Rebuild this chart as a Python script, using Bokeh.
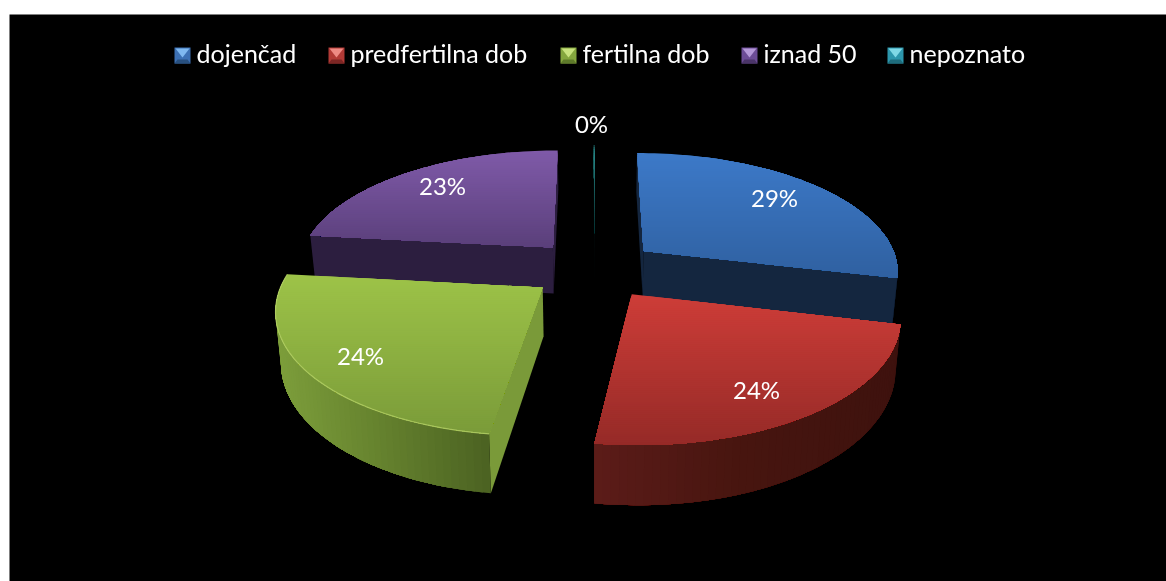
import math
from bokeh.plotting import figure
from bokeh.embed import file_html
from bokeh.resources import INLINE
from bokeh.core.properties import value

# ---- data ----
categories = ["dojenčad", "predfertilna dob", "fertilna dob", "iznad 50", "nepoznato"]
shares = [28.7, 23.55, 24.49, 23.21, 0.05]
tick_label_fmt = "{:.0f}%"

# ---- colours (top gradient, rim stops, radial wall, legend light/mid/dark) ----
top_from = ["#3c79c8", "#cd3d38", "#9dc348", "#7f5aa8", "#2a9090"]
top_to = ["#2f60a0", "#952a27", "#7a9b39", "#5a3f7a", "#021010"]
rim_stops = [
    ["#14263f", "#14263f", "#14263f"],
    ["#5c1c19", "#47150f", "#3e120e"],
    ["#7d9e3b", "#65822e", "#4c6322"],
    ["#2c1e3f", "#2c1e3f", "#2c1e3f"],
    ["#061414", "#061414", "#061414"],
]
radial_wall = ["#14263f", "#5c1c19", "#7a9a39", "#2c1e3f", "#061414"]
rim_glow = [None, None, "#b4d066", None, None]
leg_light = ["#7fb8f0", "#ee8a84", "#c8e27e", "#b498d8", "#7fd8e6"]
leg_mid = ["#3c70b4", "#b23a36", "#84a63e", "#6c4c96", "#2c96ac"]
leg_dark = ["#28507f", "#7c2624", "#5e7a2a", "#4a3468", "#1e6c7c"]

# ---- layout ----
W, H = 1166, 581
CX, CY, RX, RY, PERSP, EXPLODE = 594, 268.5, 256, 118.5, 0.156, 0.25
DEPTH0, DEPTH_K, SHRINK = 46, 0.0725, 0.983
draw_order = [3, 4, 0, 2, 1]
label_xy = [(774, 197), (756, 389), (360, 355), (442, 185), (591, 123)]
legend_swatch_x = [174, 328, 560, 741, 887]
legend_y, swatch = 47, 16


def hex2rgb(c):
    return tuple(int(c[i:i + 2], 16) for i in (1, 3, 5))


def mix(a, b, t):
    t = max(0.0, min(1.0, t))
    ra, rb = hex2rgb(a), hex2rgb(b)
    return "#%02x%02x%02x" % tuple(round(x + (y - x) * t) for x, y in zip(ra, rb))


def stops(cols, t):
    if t < 0.5:
        return mix(cols[0], cols[1], t * 2)
    return mix(cols[1], cols[2], (t - 0.5) * 2)


def project(X, V):
    d = 1 + PERSP * V
    return CX + RX * X / d, CY - RY * V / d


def lower(pt):
    x, y = pt
    return CX + (x - CX) * SHRINK, y + DEPTH0 + DEPTH_K * (y - 250)


def clip_band(poly, y0, y1):
    def clip(pts, keep, cross):
        out = []
        for i, a in enumerate(pts):
            b = pts[(i + 1) % len(pts)]
            if keep(a):
                out.append(a)
            if keep(a) != keep(b):
                t = (cross - a[1]) / (b[1] - a[1])
                out.append((a[0] + (b[0] - a[0]) * t, cross))
        return out
    res = clip(poly, lambda p: p[1] >= y0, y0)
    if res:
        res = clip(res, lambda p: p[1] <= y1, y1)
    return res


xs, ys, cols = [], [], []


def add(poly, color):
    xs.append([p[0] for p in poly])
    ys.append([p[1] for p in poly])
    cols.append(color)


total = sum(shares)
angles = [0.0]
for s in shares:
    angles.append(angles[-1] + s / total * 2 * math.pi)

glow_x, glow_y, glow_c = [], [], []
for i in draw_order:
    a0, a1 = angles[i], angles[i + 1]
    mid = (a0 + a1) / 2
    ex, ev = EXPLODE * math.sin(mid), EXPLODE * math.cos(mid)
    apex = project(ex, ev)
    n = max(2, int((a1 - a0) / math.radians(1.5)))
    rim = [project(ex + math.sin(a0 + (a1 - a0) * k / n), ev + math.cos(a0 + (a1 - a0) * k / n)) for k in range(n + 1)]
    # radial walls
    for a, b in ((apex, rim[0]), (rim[-1], apex)):
        if b[0] < a[0]:
            add([a, b, lower(b), lower(a)], radial_wall[i])
    # outer wall, painted from its right end so that strips overlap without seams
    vis = [k for k in range(n) if rim[k + 1][0] < rim[k][0]]
    if vis:
        xmax = rim[vis[0]][0]
        xmin = rim[vis[-1] + 1][0]
        for k in vis:
            t = (rim[k][0] - xmin) / max(1, xmax - xmin)
            top = rim[k:vis[-1] + 2]
            add(top + [lower(q) for q in reversed(top)], stops(rim_stops[i], t))
    # top face: each strip reaches the bottom, the next one paints over it
    poly = [apex] + rim
    ymin = min(q[1] for q in poly)
    ymax = max(q[1] for q in poly)
    y = ymin
    while y < ymax:
        band = clip_band(poly, y, ymax + 1)
        if len(band) >= 3:
            add(band, mix(top_from[i], top_to[i], (y - ymin) / (ymax - ymin)))
        y += 2
    if rim_glow[i]:
        glow_x.append([q[0] for q in rim])
        glow_y.append([q[1] for q in rim])
        glow_c.append(rim_glow[i])

# legend swatches
for i, sx in enumerate(legend_swatch_x):
    x0, x1, y0, y1 = sx, sx + swatch, legend_y, legend_y + swatch
    xc = (x0 + x1) / 2
    add([(x0, y0), (x1, y0), (x1, y1), (x0, y1)], leg_mid[i])
    add([(x0 + 1, y0 + 1), (x1 - 1, y0 + 1), (xc, y0 + 10)], leg_light[i])
    add([(x0, y1), (x1, y1), (x1 - 3, y1 - 4), (x0 + 3, y1 - 4)], leg_dark[i])

p = figure(width=W, height=H, x_range=(9, W), y_range=(H, 14), toolbar_location=None,
           output_backend="svg", min_border_left=9, min_border_top=14, min_border_right=0,
           min_border_bottom=0, background_fill_color="#000000", border_fill_color="#ffffff",
           outline_line_color=None)
p.axis.visible = False
p.grid.visible = False
p.styles = {"position": "fixed", "left": "0px", "top": "0px"}

p.patches(xs, ys, fill_color=cols, line_color=None)
if glow_x:
    p.multi_line(glow_x, glow_y, line_color=glow_c, line_width=1.2, line_alpha=0.8)

labels = [tick_label_fmt.format(s / total * 100) for s in shares]
p.text([q[0] for q in label_xy], [q[1] for q in label_xy], text=labels, text_color="#ffffff",
       text_font=value("Lato"), text_font_size="24px", text_align="center", text_baseline="middle")
p.text([x + swatch + 6 for x in legend_swatch_x], [legend_y + swatch / 2 - 2.5] * 5, text=categories,
       text_color="#ffffff", text_font=value("Lato"), text_font_size="25px",
       text_align="left", text_baseline="middle")

open("out.html", "w").write(file_html(p, INLINE))
